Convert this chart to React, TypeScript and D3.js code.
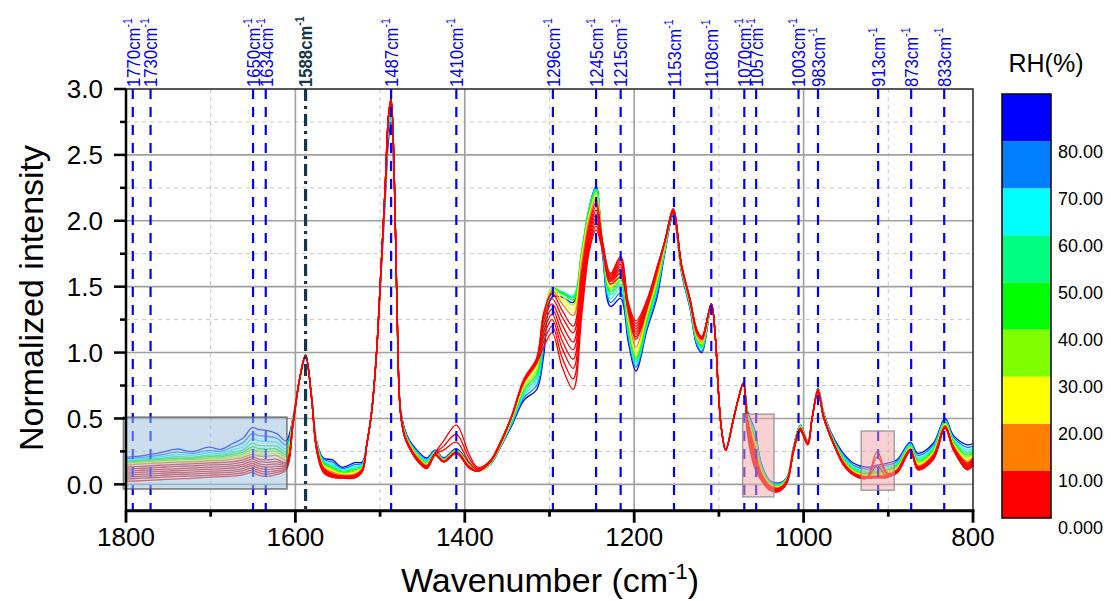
import React, { useRef, useEffect } from "react";
import * as d3 from "d3";

// wavenumber grid (cm-1)
const wavenumbers = [1800,1780,1760,1740,1722,1702,1688,1674,1662,1651,1643,1634,1622,1611,1603,1595,1588,1581,1575,1567,1556,1545,1530,1521,1516,1510,1504,1500,1494,1490,1487,1483,1480,1476,1471,1465,1455,1445,1435,1425,1410,1395,1385,1370,1358,1345,1330,1315,1307,1297,1285,1272,1262,1253,1245,1237,1228,1216,1207,1198,1185,1173,1164,1154,1144,1134,1126,1120,1109,1104,1101,1097,1092,1083,1077,1071,1066,1058,1050,1040,1030,1020,1012,1004,995,990,983,977,973,965,953,941,926,913,902,890,874,865,847,833,823,807,800];

// one spectrum per relative humidity
const rh85 = [.205,.218,.238,.268,.248,.282,.265,.31,.35,.43,.415,.41,.385,.33,.5,.8,.96,.68,.33,.2,.185,.13,.165,.17,.3,.54,1.0,1.45,2.15,2.62,2.75,2.2,1.35,.58,.42,.33,.25,.2,.26,.2,.27,.16,.11,.15,.28,.44,.64,.72,.97,1.42,1.42,1.38,1.75,2.1,2.26,1.72,1.35,1.41,1.08,.86,1.17,1.42,1.75,2.04,1.6,1.33,1.05,1.0,1.36,1.1,.75,.42,.27,.49,.65,.76,.55,.42,.16,.03,.01,.05,.28,.45,.33,.5,.73,.56,.48,.36,.235,.16,.13,.145,.16,.185,.32,.235,.31,.5,.37,.3,.31];
const rh75 = [.195,.205,.222,.245,.235,.258,.25,.285,.315,.385,.37,.365,.35,.3,.496,.8,.97,.68,.325,.19,.168,.12,.15,.16,.29,.55,1.02,1.5,2.2,2.68,2.8,2.22,1.33,.55,.41,.32,.24,.19,.255,.195,.265,.155,.11,.15,.283,.45,.66,.75,1.03,1.45,1.45,1.42,1.76,2.1,2.26,1.74,1.38,1.45,1.12,.89,1.19,1.45,1.76,2.05,1.61,1.34,1.06,1.01,1.36,1.1,.75,.42,.26,.49,.65,.77,.54,.41,.15,.025,.005,.047,.278,.448,.33,.5,.73,.56,.476,.35,.22,.145,.115,.13,.145,.172,.312,.22,.296,.492,.356,.28,.292];
const rh65 = [.185,.195,.208,.226,.22,.238,.233,.262,.285,.345,.33,.325,.318,.27,.492,.8,.97,.67,.32,.18,.152,.11,.135,.15,.29,.55,1.02,1.5,2.22,2.72,2.84,2.24,1.33,.55,.4,.315,.23,.18,.25,.19,.26,.15,.105,.155,.286,.46,.68,.78,1.09,1.47,1.46,1.43,1.77,2.1,2.25,1.76,1.41,1.49,1.15,.91,1.21,1.48,1.77,2.06,1.62,1.35,1.08,1.03,1.36,1.1,.75,.42,.26,.49,.65,.77,.53,.4,.14,.02,0,.044,.275,.445,.325,.5,.72,.55,.472,.345,.21,.132,.1,.115,.13,.16,.304,.205,.282,.484,.343,.26,.275];
const rh55 = [.175,.185,.196,.21,.207,.222,.22,.243,.262,.31,.295,.292,.29,.245,.488,.8,.97,.67,.315,.17,.138,.1,.122,.14,.29,.55,1.02,1.5,2.24,2.75,2.87,2.25,1.33,.55,.4,.31,.22,.17,.245,.19,.26,.15,.105,.155,.289,.47,.7,.81,1.14,1.48,1.46,1.42,1.77,2.09,2.24,1.78,1.44,1.52,1.18,.93,1.23,1.5,1.78,2.07,1.62,1.36,1.09,1.04,1.37,1.1,.75,.42,.26,.49,.65,.77,.52,.38,.13,.015,-.005,.041,.272,.442,.325,.5,.72,.55,.468,.34,.2,.12,.09,.1,.115,.148,.296,.19,.27,.476,.331,.24,.26];
const rh45 = [.168,.177,.187,.198,.197,.21,.209,.228,.245,.285,.27,.268,.268,.227,.484,.8,.98,.67,.31,.16,.125,.092,.11,.135,.29,.55,1.02,1.5,2.26,2.77,2.89,2.26,1.33,.55,.39,.305,.215,.16,.24,.185,.255,.145,.1,.16,.292,.48,.72,.84,1.19,1.49,1.45,1.4,1.76,2.08,2.23,1.79,1.46,1.55,1.2,.95,1.25,1.52,1.79,2.08,1.63,1.37,1.1,1.05,1.37,1.1,.75,.42,.26,.49,.65,.77,.51,.36,.12,.01,-.01,.038,.27,.44,.32,.5,.72,.55,.464,.335,.19,.11,.08,.09,.105,.138,.29,.178,.258,.468,.32,.222,.245];
const rh35 = [.16,.17,.179,.188,.188,.2,.199,.215,.23,.265,.25,.248,.25,.212,.48,.8,.98,.66,.305,.15,.113,.085,.1,.13,.29,.55,1.02,1.5,2.26,2.78,2.91,2.27,1.33,.55,.39,.3,.21,.155,.24,.185,.255,.145,.1,.16,.295,.49,.74,.87,1.23,1.49,1.43,1.36,1.74,2.06,2.21,1.8,1.48,1.58,1.23,.97,1.27,1.54,1.8,2.09,1.63,1.37,1.11,1.06,1.37,1.1,.75,.42,.26,.49,.65,.77,.5,.34,.11,.005,-.015,.035,.268,.437,.32,.5,.72,.54,.46,.33,.182,.102,.072,.08,.095,.128,.284,.166,.248,.46,.31,.206,.232];
const rh25 = [.152,.162,.17,.178,.179,.19,.189,.203,.216,.247,.232,.23,.234,.198,.476,.8,.98,.66,.3,.14,.102,.078,.09,.125,.29,.55,1.02,1.5,2.26,2.79,2.92,2.27,1.33,.55,.38,.295,.205,.15,.235,.18,.25,.14,.1,.165,.298,.49,.75,.9,1.26,1.48,1.4,1.32,1.72,2.04,2.19,1.81,1.5,1.6,1.26,1.0,1.3,1.56,1.81,2.09,1.64,1.38,1.12,1.07,1.37,1.1,.75,.42,.26,.49,.65,.77,.5,.32,.1,0,-.02,.032,.265,.434,.32,.5,.72,.54,.456,.325,.175,.095,.066,.072,.085,.12,.278,.155,.238,.454,.3,.19,.22];
const rh15 = [.145,.155,.162,.168,.17,.18,.18,.192,.203,.23,.215,.213,.218,.185,.472,.8,.98,.66,.3,.13,.092,.072,.08,.12,.29,.55,1.02,1.5,2.26,2.8,2.93,2.27,1.33,.55,.38,.29,.2,.145,.235,.18,.25,.14,.1,.165,.3,.5,.77,.92,1.28,1.47,1.37,1.28,1.68,2.02,2.17,1.82,1.52,1.62,1.29,1.04,1.32,1.58,1.82,2.09,1.64,1.38,1.13,1.08,1.37,1.1,.75,.42,.26,.49,.65,.77,.5,.3,.09,-.005,-.025,.029,.262,.43,.32,.5,.72,.54,.452,.322,.17,.09,.06,.065,.075,.112,.272,.145,.228,.448,.292,.176,.208];
const rh9 = [.13,.137,.145,.152,.155,.163,.165,.172,.185,.21,.19,.185,.19,.165,.468,.8,.98,.66,.29,.125,.08,.065,.07,.115,.29,.55,1.02,1.5,2.26,2.8,2.93,2.27,1.33,.55,.37,.285,.19,.14,.23,.175,.245,.135,.1,.17,.31,.51,.8,.96,1.3,1.45,1.32,1.2,1.62,1.98,2.14,1.83,1.6,1.73,1.38,1.24,1.4,1.65,1.84,2.09,1.65,1.39,1.15,1.1,1.37,1.1,.75,.42,.26,.49,.65,.77,.48,.27,.08,-.01,-.03,.026,.26,.427,.315,.5,.72,.53,.45,.32,.165,.085,.056,.06,.065,.105,.265,.135,.218,.442,.284,.162,.196];
const rh8 = [.115,.122,.129,.136,.139,.147,.149,.156,.168,.192,.172,.166,.172,.157,.464,.8,.98,.66,.285,.12,.075,.062,.066,.11,.29,.55,1.02,1.5,2.26,2.8,2.93,2.27,1.33,.55,.37,.28,.185,.135,.23,.175,.24,.13,.1,.17,.31,.51,.8,.955,1.27,1.41,1.27,1.15,1.58,1.95,2.11,1.82,1.59,1.71,1.37,1.22,1.39,1.645,1.84,2.09,1.65,1.39,1.15,1.1,1.37,1.1,.75,.42,.26,.49,.65,.77,.47,.25,.07,-.015,-.035,.023,.258,.424,.315,.5,.71,.53,.448,.318,.162,.082,.054,.057,.06,.1,.262,.13,.213,.439,.279,.152,.186];
const rh7 = [.10,.107,.113,.12,.123,.131,.133,.14,.152,.175,.155,.148,.155,.149,.46,.8,.98,.66,.28,.115,.07,.06,.062,.105,.29,.55,1.02,1.5,2.26,2.8,2.93,2.27,1.33,.55,.37,.28,.18,.13,.225,.17,.24,.13,.1,.17,.31,.51,.8,.95,1.24,1.37,1.21,1.08,1.53,1.92,2.08,1.81,1.58,1.69,1.36,1.2,1.38,1.64,1.84,2.08,1.65,1.4,1.16,1.11,1.37,1.1,.75,.42,.26,.49,.65,.77,.46,.23,.06,-.02,-.04,.02,.255,.421,.31,.5,.71,.53,.446,.316,.16,.08,.052,.054,.057,.097,.26,.126,.208,.436,.274,.142,.177];
const rh6 = [.085,.092,.098,.105,.108,.115,.117,.124,.136,.158,.138,.13,.138,.141,.456,.8,.98,.66,.275,.11,.066,.057,.058,.1,.29,.55,1.02,1.5,2.26,2.8,2.92,2.27,1.33,.55,.36,.275,.18,.13,.225,.17,.235,.125,.1,.175,.315,.51,.79,.945,1.2,1.33,1.15,1.02,1.48,1.89,2.05,1.8,1.57,1.67,1.35,1.18,1.37,1.635,1.84,2.08,1.66,1.4,1.16,1.11,1.37,1.1,.75,.42,.26,.49,.65,.77,.45,.21,.05,-.025,-.045,.017,.252,.418,.31,.5,.71,.53,.444,.314,.157,.078,.05,.052,.054,.094,.258,.122,.203,.433,.27,.133,.168];
const rh5 = [.07,.077,.083,.09,.093,.1,.102,.108,.12,.141,.121,.112,.121,.133,.452,.8,.98,.66,.27,.105,.062,.055,.055,.1,.29,.55,1.02,1.5,2.26,2.8,2.92,2.27,1.33,.55,.36,.275,.175,.125,.22,.17,.235,.125,.1,.175,.315,.51,.79,.94,1.16,1.29,1.09,.95,1.43,1.86,2.02,1.79,1.56,1.65,1.34,1.16,1.36,1.63,1.84,2.07,1.66,1.4,1.17,1.12,1.37,1.1,.75,.42,.26,.49,.65,.77,.43,.19,.045,-.03,-.05,.014,.25,.415,.31,.5,.71,.52,.442,.312,.155,.076,.048,.05,.05,.091,.256,.119,.198,.43,.266,.125,.16];
const rh4 = [.055,.062,.068,.075,.078,.085,.087,.093,.104,.124,.104,.094,.105,.125,.448,.8,.98,.66,.265,.1,.058,.052,.052,.1,.29,.55,1.02,1.5,2.26,2.8,2.91,2.27,1.33,.55,.36,.27,.175,.125,.23,.26,.32,.17,.11,.175,.315,.51,.79,.935,1.12,1.25,1.03,.88,1.38,1.83,1.99,1.78,1.55,1.63,1.33,1.14,1.35,1.625,1.84,2.07,1.66,1.4,1.17,1.12,1.37,1.1,.75,.42,.26,.49,.65,.77,.41,.17,.04,-.035,-.05,.011,.248,.412,.305,.5,.7,.52,.44,.31,.152,.074,.047,.14,.06,.088,.254,.116,.194,.428,.263,.118,.154];
const rh3 = [.04,.047,.053,.06,.063,.07,.072,.078,.088,.107,.087,.077,.09,.117,.444,.8,.98,.66,.26,.095,.055,.05,.05,.1,.29,.55,1.02,1.5,2.26,2.8,2.9,2.27,1.33,.55,.36,.27,.17,.12,.235,.29,.38,.2,.12,.18,.32,.51,.78,.93,1.08,1.2,.96,.8,1.33,1.8,1.96,1.77,1.54,1.6,1.32,1.12,1.34,1.62,1.84,2.06,1.66,1.4,1.17,1.12,1.37,1.1,.75,.42,.26,.49,.65,.77,.39,.15,.035,-.04,-.055,.008,.245,.41,.3,.5,.7,.52,.44,.31,.15,.072,.046,.21,.08,.086,.252,.113,.19,.426,.26,.113,.15];
const rh2 = [.022,.028,.035,.042,.046,.055,.058,.062,.072,.09,.068,.06,.075,.11,.44,.8,.98,.66,.26,.09,.052,.048,.048,.1,.29,.55,1.02,1.5,2.26,2.8,2.89,2.27,1.33,.55,.36,.27,.17,.12,.24,.33,.45,.23,.13,.18,.32,.51,.78,.92,1.04,1.15,.89,.72,1.28,1.77,1.93,1.76,1.52,1.57,1.31,1.1,1.33,1.615,1.84,2.06,1.66,1.4,1.17,1.12,1.37,1.1,.75,.42,.26,.49,.65,.77,.37,.13,.03,-.045,-.055,.005,.24,.405,.3,.5,.7,.52,.44,.31,.146,.07,.045,.25,.09,.085,.25,.11,.185,.425,.26,.11,.146];

const rhLevels = [85, 75, 65, 55, 45, 35, 25, 15, 9, 8, 7, 6, 5, 4, 3, 2];
const spectra = [rh85, rh75, rh65, rh55, rh45, rh35, rh25, rh15, rh9, rh8, rh7, rh6, rh5, rh4, rh3, rh2];

// marked bands: where the dashed line sits and what its label says
const bandPositions = [1792, 1771, 1650, 1635, 1487, 1410, 1296, 1245, 1216, 1153, 1109, 1070, 1056, 1006, 983, 912, 873, 834];
const bandLabels = ["1770", "1730", "1650", "1634", "1487", "1410", "1296", "1245", "1215", "1153", "1108", "1070", "1057", "1003", "983", "913", "873", "833"];
const mainBand = 1588;

// colour scale (RH %)
const legendTicks = [0, 10, 20, 30, 40, 50, 60, 70, 80];
const legendColors = ["#ff0000", "#ff8000", "#ffff00", "#80ff00", "#00ff00", "#00ff80", "#00ffff", "#0080ff", "#0000ff"];

// highlighted regions [wn from, wn to, intensity low, intensity high]
const blueBox = [1803, 1610, -0.035, 0.51];
const pinkBoxes = [
  [1072, 1035, -0.095, 0.533],
  [932, 893, -0.045, 0.405],
];

const FONT = "'Liberation Sans', Arial, sans-serif";

const App = () => {
  const svgRef = useRef<SVGSVGElement>(null);

  useEffect(() => {
    const svg = d3.select(svgRef.current);
    svg.selectAll("*").remove();

    const left = 126, right = 973, top = 89, bottom = 510.7;
    const x = d3.scaleLinear().domain([1800, 800]).range([left, right]);
    const y = d3.scaleLinear().domain([-0.2, 3.0]).range([bottom, top]);

    svg.append("rect").attr("width", 1111).attr("height", 601).attr("fill", "#fff");

    // grid
    const grid = svg.append("g");
    const xMajor = [1800, 1600, 1400, 1200, 1000, 800];
    const xMinor = [1700, 1500, 1300, 1100, 900];
    const yMajor = d3.range(0, 3.01, 0.5);
    const yMinor = d3.range(0.25, 3, 0.5);

    grid.selectAll(".xmin").data(xMinor).join("line")
      .attr("x1", (d) => x(d)).attr("x2", (d) => x(d)).attr("y1", top).attr("y2", bottom)
      .attr("stroke", "#c8c8c8").attr("stroke-dasharray", "4,4").attr("stroke-width", 1);
    grid.selectAll(".ymin").data(yMinor).join("line")
      .attr("x1", left).attr("x2", right).attr("y1", (d) => y(d)).attr("y2", (d) => y(d))
      .attr("stroke", "#c8c8c8").attr("stroke-dasharray", "4,4").attr("stroke-width", 1);
    grid.selectAll(".xmaj").data(xMajor.slice(1, -1)).join("line")
      .attr("x1", (d) => x(d)).attr("x2", (d) => x(d)).attr("y1", top).attr("y2", bottom)
      .attr("stroke", "#a0a0a0").attr("stroke-width", 1.6);
    grid.selectAll(".ymaj").data(yMajor.slice(0, -1)).join("line")
      .attr("x1", left).attr("x2", right).attr("y1", (d) => y(d)).attr("y2", (d) => y(d))
      .attr("stroke", "#a0a0a0").attr("stroke-width", 1.6);

    // spectra
    const color = d3.scaleThreshold<number, string>().domain(legendTicks.slice(1)).range(legendColors);
    const line = d3.line<[number, number]>()
      .x((d) => x(d[0]))
      .y((d) => y(d[1]))
      .curve(d3.curveCatmullRom.alpha(0.5));

    const curves = svg.append("g");
    spectra.forEach((vals, i) => {
      curves.append("path")
        .datum(d3.zip(wavenumbers, vals) as [number, number][])
        .attr("d", line)
        .attr("fill", "none")
        .attr("stroke", color(rhLevels[i]))
        .attr("stroke-width", 1.3);
    });

    // band markers; labels are a little condensed along their length, as in the original
    const bands = svg.append("g");
    const bandLabel = (pos: number, text: string, fill: string, bold: boolean) => {
      const t = bands.append("text")
        .attr("transform", `translate(${x(pos)},87) rotate(-90) scale(0.88,1)`)
        .attr("dy", "0.36em")
        .attr("fill", fill)
        .attr("font-weight", bold ? "bold" : "normal")
        .attr("font-family", FONT)
        .attr("font-size", 19);
      t.append("tspan").text(text + "cm");
      t.append("tspan").attr("dy", -8).attr("font-size", 12).text("-1");
    };
    bandPositions.forEach((p, i) => {
      bands.append("line")
        .attr("x1", x(p)).attr("x2", x(p)).attr("y1", top).attr("y2", bottom)
        .attr("stroke", "#0000ff").attr("stroke-width", 2.2).attr("stroke-dasharray", "10,8");
      bandLabel(p, bandLabels[i], "#0000ff", false);
    });

    bands.append("line")
      .attr("x1", x(mainBand)).attr("x2", x(mainBand)).attr("y1", top).attr("y2", bottom)
      .attr("stroke", "#17354b").attr("stroke-width", 3.2).attr("stroke-dasharray", "12,5,3,5");
    bandLabel(mainBand, String(mainBand), "#17354b", true);

    // highlight boxes
    svg.append("rect")
      .attr("x", x(blueBox[0])).attr("y", y(blueBox[3]))
      .attr("width", x(blueBox[1]) - x(blueBox[0])).attr("height", y(blueBox[2]) - y(blueBox[3]))
      .attr("fill", "#9ec3df").attr("fill-opacity", 0.55)
      .attr("stroke", "#555").attr("stroke-opacity", 0.75).attr("stroke-width", 1.6);
    pinkBoxes.forEach((b) => {
      svg.append("rect")
        .attr("x", x(b[0])).attr("y", y(b[3]))
        .attr("width", x(b[1]) - x(b[0])).attr("height", y(b[2]) - y(b[3]))
        .attr("fill", "#f2a5a5").attr("fill-opacity", 0.5)
        .attr("stroke", "#888").attr("stroke-opacity", 0.8).attr("stroke-width", 1.4);
    });

    // frame
    svg.append("rect")
      .attr("x", left).attr("y", top).attr("width", right - left).attr("height", bottom - top)
      .attr("fill", "none").attr("stroke", "#222").attr("stroke-width", 1.5);

    // y axis
    const yAxis = svg.append("g");
    yAxis.append("line").attr("x1", left).attr("x2", left).attr("y1", top).attr("y2", bottom + 1)
      .attr("stroke", "#000").attr("stroke-width", 2.5);
    yMajor.forEach((v) => {
      yAxis.append("line").attr("x1", left - 12).attr("x2", left).attr("y1", y(v)).attr("y2", y(v))
        .attr("stroke", "#000").attr("stroke-width", 2.5);
      yAxis.append("text").attr("x", 103).attr("y", y(v)).attr("dy", "0.36em")
        .attr("text-anchor", "end").attr("font-family", FONT).attr("font-size", 26)
        .text(d3.format(".1f")(v));
    });
    yMinor.forEach((v) => {
      yAxis.append("line").attr("x1", left - 6).attr("x2", left).attr("y1", y(v)).attr("y2", y(v))
        .attr("stroke", "#000").attr("stroke-width", 2.5);
    });

    // x axis
    const xAxis = svg.append("g");
    xAxis.append("line").attr("x1", left - 1).attr("x2", right + 1.5).attr("y1", bottom).attr("y2", bottom)
      .attr("stroke", "#000").attr("stroke-width", 3);
    xMajor.forEach((v) => {
      xAxis.append("line").attr("x1", x(v)).attr("x2", x(v)).attr("y1", bottom).attr("y2", bottom + 12)
        .attr("stroke", "#000").attr("stroke-width", 2.8);
      xAxis.append("text").attr("x", x(v)).attr("y", 546)
        .attr("text-anchor", "middle").attr("font-family", FONT).attr("font-size", 26)
        .text(v);
    });
    xMinor.forEach((v) => {
      xAxis.append("line").attr("x1", x(v)).attr("x2", x(v)).attr("y1", bottom).attr("y2", bottom + 6)
        .attr("stroke", "#000").attr("stroke-width", 2.8);
    });

    // axis titles
    const xt = svg.append("text").attr("x", 550).attr("y", 592)
      .attr("text-anchor", "middle").attr("font-family", FONT).attr("font-size", 34);
    xt.append("tspan").text("Wavenumber (cm");
    xt.append("tspan").attr("dy", -13).attr("font-size", 22).text("-1");
    xt.append("tspan").attr("dy", 13).text(")");

    svg.append("text")
      .attr("transform", "translate(43,298) rotate(-90)")
      .attr("text-anchor", "middle").attr("font-family", FONT).attr("font-size", 34)
      .text("Normalized intensity");

    // colour bar
    const leg = svg.append("g");
    const ly = d3.scaleLinear().domain([0, 90]).range([518, 94]);
    legendColors.forEach((c, i) => {
      leg.append("rect")
        .attr("x", 1002).attr("y", ly((i + 1) * 10)).attr("width", 49)
        .attr("height", ly(i * 10) - ly((i + 1) * 10))
        .attr("fill", c);
    });
    leg.append("rect").attr("x", 1002).attr("y", ly(90)).attr("width", 49).attr("height", ly(0) - ly(90))
      .attr("fill", "none").attr("stroke", "#000").attr("stroke-width", 1.5);
    legendTicks.forEach((v) => {
      leg.append("text").attr("x", 1058).attr("y", ly(v) + 10).attr("dy", "0.36em")
        .attr("font-family", FONT).attr("font-size", 18)
        .text(v === 0 ? "0.000" : d3.format(".2f")(v));
    });
    leg.append("text").attr("x", 1046).attr("y", 72).attr("text-anchor", "middle")
      .attr("font-family", FONT).attr("font-size", 25).text("RH(%)");
  }, []);

  return (
    <svg
      ref={svgRef}
      width={1111}
      height={601}
      style={{ position: "absolute", left: 0, top: 0 }}
    />
  );
};

export default App;
